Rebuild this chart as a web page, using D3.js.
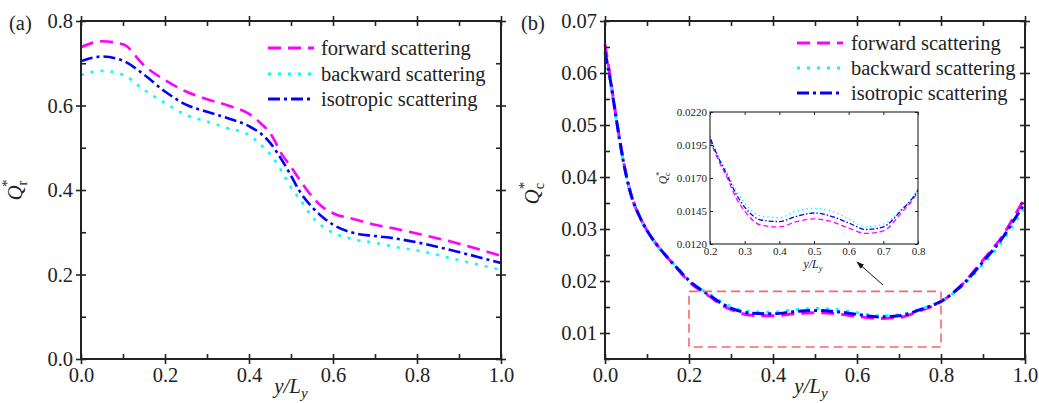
<!DOCTYPE html>
<html><head><meta charset="utf-8">
<script src="https://cdn.jsdelivr.net/npm/d3@7"></script>
<style>
body{margin:0;background:#fff;}
svg{display:block;}
svg text{font-family:"Liberation Serif","Times New Roman",serif !important;}
</style></head>
<body><svg id="c" width="1039" height="403"></svg>
<script>
// ---------- DATA ----------
const seriesNames = ["forward scattering", "backward scattering", "isotropic scattering"];

// Panel (a): Q_r*
const xA = [0,0.05,0.1,0.15,0.2,0.25,0.3,0.35,0.4,0.43,0.45,0.48,0.5,0.52,0.55,0.575,0.6,0.65,0.7,0.75,0.8,0.9,1.0];
const forwardA  = [0.738,0.752,0.745,0.695,0.660,0.633,0.615,0.600,0.580,0.556,0.535,0.482,0.455,0.425,0.385,0.360,0.345,0.331,0.318,0.308,0.297,0.273,0.244];
const backwardA = [0.672,0.682,0.673,0.637,0.606,0.578,0.562,0.546,0.530,0.505,0.485,0.441,0.406,0.380,0.337,0.314,0.299,0.283,0.275,0.265,0.257,0.234,0.211];
const isotropicA= [0.705,0.716,0.706,0.673,0.633,0.602,0.585,0.570,0.551,0.532,0.512,0.468,0.434,0.398,0.360,0.336,0.318,0.298,0.291,0.285,0.276,0.253,0.227];

// Panel (b): Q_c*
const xB = [0,0.01,0.02,0.035,0.05,0.065,0.08,0.1,0.125,0.15,0.175,0.2,0.225,0.25,0.275,0.3,0.35,0.4,0.45,0.5,0.55,0.6,0.65,0.7,0.75,0.8,0.85,0.9,0.95,0.98,1.0];
const forwardB  = [0.0655,0.0605,0.0550,0.0472,0.0406,0.0358,0.0328,0.0297,0.0268,0.0244,0.0221,0.0199,0.0183,0.0170,0.0155,0.0145,0.0134,0.0133,0.0137,0.0139,0.0137,0.0132,0.0128,0.0130,0.0143,0.0160,0.0193,0.0240,0.0291,0.0332,0.0360];
const backwardB = [0.0630,0.0592,0.0545,0.0468,0.0404,0.0358,0.0328,0.0297,0.0268,0.0245,0.0223,0.0201,0.0186,0.0174,0.0161,0.0151,0.0141,0.0140,0.0145,0.0147,0.0145,0.0139,0.0133,0.0135,0.0146,0.0161,0.0190,0.0232,0.0281,0.0318,0.0342];
const isotropicB= [0.0640,0.0600,0.0548,0.0470,0.0405,0.0358,0.0328,0.0297,0.0268,0.0244,0.0222,0.0201,0.0185,0.0172,0.0158,0.0148,0.0138,0.0137,0.0141,0.01435,0.0141,0.0136,0.0131,0.0133,0.0145,0.0161,0.0192,0.0237,0.0287,0.0325,0.0350];

// Ticks
const xTicksMain = [0,0.2,0.4,0.6,0.8,1.0];
const xTicksMinor = [0.1,0.3,0.5,0.7,0.9];
const yTicksA = [0,0.2,0.4,0.6,0.8];
const yTicksAMinor = [0.1,0.3,0.5,0.7];
const yTicksB = [0.01,0.02,0.03,0.04,0.05,0.06,0.07];
const yTicksBMinor = [0.005,0.015,0.025,0.035,0.045,0.055,0.065];
const xTicksInset = [0.2,0.3,0.4,0.5,0.6,0.7,0.8];
const yTicksInset = [0.012,0.0145,0.017,0.0195,0.022];
const zoomBox = {x0:0.2, x1:0.8, y0:0.0073, y1:0.018};

// ---------- STYLE ----------
const colors = ["#ff00ff", "#00ffff", "#0000ff"];
const dashes = ["13,7", "3,7", "12,4,3,4"];
const dashesSmall = ["5,3", "1.5,3", "5,2,1.5,2"];
const axisColor = "#222";
const serif = '"Liberation Serif","Times New Roman",serif';

const svg = d3.select("#c").attr("font-family", serif);
svg.append("defs").append("marker")
  .attr("id","arr").attr("viewBox","0 0 10 10").attr("refX",9).attr("refY",5)
  .attr("markerWidth",8).attr("markerHeight",8).attr("orient","auto-start-reverse")
  .append("path").attr("d","M0,1.5 L10,5 L0,8.5 z").attr("fill","#111");

function axes(g, x, y, o) {
  const [x0,x1] = x.range(), [y1,y0] = y.range();
  const mk = (axisFn, scale, vals, size, fmt, tr) => {
    const a = g.append("g").attr("transform", tr)
      .call(axisFn(scale).tickValues(vals).tickSize(size).tickPadding(o.pad).tickFormat(fmt));
    a.attr("font-family", serif);
    a.select(".domain").remove();
    a.selectAll("line").attr("stroke", axisColor).attr("stroke-width", o.tw);
    a.selectAll("text").attr("font-size", o.fs).attr("fill", axisColor).attr("font-family", serif);
    return a;
  };
  const none = () => "";
  mk(d3.axisBottom, x, o.xMaj, o.out, o.fmtX, `translate(0,${y1})`);
  mk(d3.axisBottom, x, o.xMaj, -o.inn, none, `translate(0,${y1})`);
  if (o.xMin) mk(d3.axisBottom, x, o.xMin, -o.minn, none, `translate(0,${y1})`);
  mk(d3.axisTop, x, o.xMaj, o.out, none, `translate(0,${y0})`);
  mk(d3.axisTop, x, o.xMaj, -o.inn, none, `translate(0,${y0})`);
  if (o.xMin) mk(d3.axisTop, x, o.xMin, -o.minn, none, `translate(0,${y0})`);
  mk(d3.axisLeft, y, o.yMaj, o.out, o.fmtY, `translate(${x0},0)`);
  mk(d3.axisLeft, y, o.yMaj, -o.inn, none, `translate(${x0},0)`);
  if (o.yMin) mk(d3.axisLeft, y, o.yMin, -o.minn, none, `translate(${x0},0)`);
  mk(d3.axisRight, y, o.yMaj, o.out, none, `translate(${x1},0)`);
  mk(d3.axisRight, y, o.yMaj, -o.inn, none, `translate(${x1},0)`);
  if (o.yMin) mk(d3.axisRight, y, o.yMin, -o.minn, none, `translate(${x1},0)`);
  g.append("rect").attr("x", x0).attr("y", y0).attr("width", x1-x0).attr("height", y1-y0)
    .attr("fill","none").attr("stroke", axisColor).attr("stroke-width", o.fw);
}

function drawLines(g, x, y, xs, sets, width, dashArr, clipId) {
  const line = d3.line().x(d => x(d[0])).y(d => y(d[1])).curve(d3.curveMonotoneX);
  sets.forEach((vals, i) => {
    const pts = xs.map((v, j) => [v, vals[j]]);
    const p = g.append("path").attr("d", line(pts)).attr("fill","none")
      .attr("stroke", colors[i]).attr("stroke-width", width)
      .attr("stroke-dasharray", dashArr[i]);
    if (clipId) p.attr("clip-path", `url(#${clipId})`);
  });
}

function legend(g, lx0, lx1, tx, rows) {
  seriesNames.forEach((n, i) => {
    g.append("line").attr("x1", lx0).attr("x2", lx1).attr("y1", rows[i]).attr("y2", rows[i])
      .attr("stroke", colors[i]).attr("stroke-width", 2.8).attr("stroke-dasharray", dashes[i]);
    g.append("text").attr("x", tx).attr("y", rows[i]).attr("dy","0.33em")
      .attr("font-size", 20.5).attr("fill", axisColor).text(n);
  });
}

function yTitle(g, cx, cy, sub, fs) {
  const t = g.append("text").attr("transform", `translate(${cx},${cy}) rotate(-90)`)
    .attr("text-anchor","middle").attr("font-size", fs).attr("fill", axisColor);
  t.append("tspan").attr("font-style","italic").text("Q");
  t.append("tspan").attr("font-size", fs*0.68).attr("dy", fs*0.25).text(sub);
  t.append("tspan").attr("font-size", fs*0.72).attr("dx", -fs*0.3).attr("dy", -fs*0.72).text("*");
}
function xTitle(g, cx, cy, fs) {
  const t = g.append("text").attr("x", cx).attr("y", cy).attr("text-anchor","middle")
    .attr("font-size", fs).attr("fill", axisColor).attr("font-style","italic");
  t.append("tspan").text("y/L");
  t.append("tspan").attr("font-size", fs*0.72).attr("dy", fs*0.25).text("y");
}

const fmt1 = d3.format(".1f"), fmt2 = d3.format(".2f"), fmt4 = d3.format(".4f");

// ---------- PANEL A ----------
const gA = svg.append("g");
const xa = d3.scaleLinear().domain([0,1]).range([81,501]);
const ya = d3.scaleLinear().domain([0,0.8]).range([359,21]);
drawLines(gA, xa, ya, xA, [forwardA, backwardA, isotropicA], 2.6, dashes);
axes(gA, xa, ya, {xMaj:xTicksMain, xMin:xTicksMinor, yMaj:yTicksA, yMin:yTicksAMinor,
  fmtX:fmt1, fmtY:fmt1, out:5, inn:5, minn:5, pad:3, fs:20.5, tw:1.6, fw:2});
legend(gA, 268, 314, 321, [48, 74, 99]);
yTitle(gA, 22, 190, "r", 21);
xTitle(gA, 291, 393, 21);
gA.append("text").attr("x", 9).attr("y", 30).attr("font-size", 20.5).attr("fill", axisColor).text("(a)");

// ---------- PANEL B ----------
const gB = svg.append("g");
const xb = d3.scaleLinear().domain([0,1]).range([605,1025]);
const yb = d3.scaleLinear().domain([0.005,0.07]).range([359,21]);
drawLines(gB, xb, yb, xB, [forwardB, backwardB, isotropicB], 3, dashes);
axes(gB, xb, yb, {xMaj:xTicksMain, xMin:xTicksMinor, yMaj:yTicksB, yMin:yTicksBMinor,
  fmtX:fmt1, fmtY:fmt2, out:5, inn:5, minn:5, pad:3, fs:20.5, tw:1.6, fw:2});
legend(gB, 797, 843, 851, [43, 68, 93]);
yTitle(gB, 539, 193, "c", 21);
xTitle(gB, 811, 393, 21);
gB.append("text").attr("x", 521).attr("y", 30).attr("font-size", 20.5).attr("fill", axisColor).text("(b)");

gB.append("rect").attr("x", xb(zoomBox.x0)).attr("y", yb(zoomBox.y1))
  .attr("width", xb(zoomBox.x1)-xb(zoomBox.x0)).attr("height", yb(zoomBox.y0)-yb(zoomBox.y1))
  .attr("fill","none").attr("stroke","#f36a6a").attr("stroke-width",1.6).attr("stroke-dasharray","9,5");

// ---------- INSET ----------
const gI = svg.append("g");
const xi = d3.scaleLinear().domain([0.2,0.8]).range([710,918]);
const yi = d3.scaleLinear().domain([0.012,0.022]).range([244,112]);
gI.append("rect").attr("x",710).attr("y",112).attr("width",208).attr("height",132).attr("fill","#fff");
svg.append("defs").append("clipPath").attr("id","clipI").append("rect")
  .attr("x",710).attr("y",112).attr("width",208).attr("height",132);
drawLines(gI, xi, yi, xB, [forwardB, backwardB, isotropicB], 1.3, dashesSmall, "clipI");
axes(gI, xi, yi, {xMaj:xTicksInset, xMin:null, yMaj:yTicksInset, yMin:null,
  fmtX:fmt1, fmtY:fmt4, out:0, inn:3, minn:0, pad:3, fs:11, tw:1, fw:1.1});
yTitle(gI, 667, 178, "c", 11.5);
xTitle(gI, 813, 268, 12);

gI.append("line").attr("x1", 883).attr("y1", 285).attr("x2", 857).attr("y2", 262)
  .attr("stroke","#111").attr("stroke-width",1).attr("marker-end","url(#arr)");
</script></body></html>
